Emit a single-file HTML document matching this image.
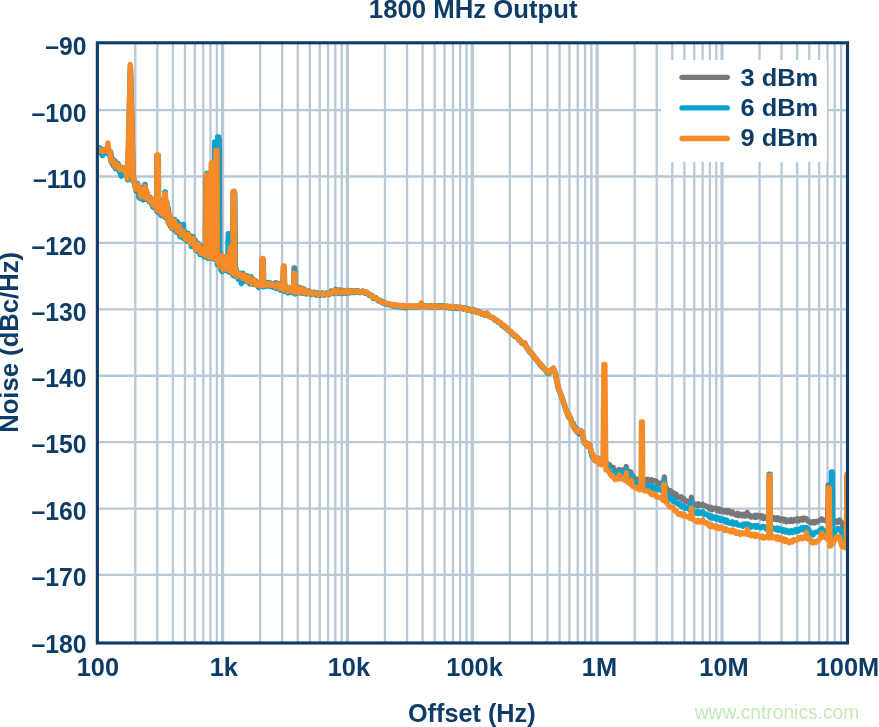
<!DOCTYPE html>
<html lang="en">
<head>
<meta charset="utf-8">
<title>1800 MHz Output</title>
<style>
html,body{margin:0;padding:0;background:#fff;}
body{width:879px;height:727px;overflow:hidden;}
svg{display:block;}
text{font-family:"Liberation Sans",sans-serif;}
.b{font-weight:bold;fill:#0c3c67;}
.w{fill:#c5e8b8;}
</style>
</head>
<body>
<svg width="879" height="727" viewBox="0 0 879 727">
<rect width="879" height="727" fill="#fff"/>
<path d="M135.30 42.8V643.0M157.29 42.8V643.0M172.89 42.8V643.0M184.99 42.8V643.0M194.87 42.8V643.0M203.23 42.8V643.0M210.47 42.8V643.0M216.86 42.8V643.0M260.15 42.8V643.0M282.14 42.8V643.0M297.74 42.8V643.0M309.84 42.8V643.0M319.72 42.8V643.0M328.08 42.8V643.0M335.32 42.8V643.0M341.71 42.8V643.0M385.00 42.8V643.0M406.99 42.8V643.0M422.59 42.8V643.0M434.69 42.8V643.0M444.57 42.8V643.0M452.93 42.8V643.0M460.17 42.8V643.0M466.56 42.8V643.0M509.85 42.8V643.0M531.84 42.8V643.0M547.44 42.8V643.0M559.54 42.8V643.0M569.42 42.8V643.0M577.78 42.8V643.0M585.02 42.8V643.0M591.41 42.8V643.0M634.70 42.8V643.0M656.69 42.8V643.0M672.29 42.8V643.0M684.39 42.8V643.0M694.27 42.8V643.0M702.63 42.8V643.0M709.87 42.8V643.0M716.26 42.8V643.0M759.55 42.8V643.0M781.54 42.8V643.0M797.14 42.8V643.0M809.24 42.8V643.0M819.12 42.8V643.0M827.48 42.8V643.0M834.72 42.8V643.0M841.11 42.8V643.0" stroke="#b8c8d7" stroke-width="2.3" fill="none"/>
<path d="M222.57 42.8V643.0M347.42 42.8V643.0M472.27 42.8V643.0M597.12 42.8V643.0M721.97 42.8V643.0" stroke="#b8c8d7" stroke-width="3.2" fill="none"/>
<path d="M97.35 110.10H847.5M97.35 176.51H847.5M97.35 242.92H847.5M97.35 309.33H847.5M97.35 375.74H847.5M97.35 442.15H847.5M97.35 508.56H847.5M97.35 574.97H847.5" stroke="#b8c8d7" stroke-width="2.3" fill="none"/>
<clipPath id="cp"><rect x="98.3" y="43.5" width="748.6" height="598.5"/></clipPath>
<g clip-path="url(#cp)">
<path d="M95.0,149.6 96.7,152.0 98.3,149.5 100.3,151.8 102.4,149.5 104.5,151.9 106.1,149.3 108.7,153.2 110.5,151.6 113.2,165.5 115.2,161.0 116.8,168.6 117.2,168.6 118.2,163.6 119.2,169.6 119.8,166.3 121.5,170.2 124.0,168.4 126.2,174.8 127.0,177.5 127.8,175.8 127.8,179.5 130.6,66.5 133.4,180.5 134.0,178.9 136.0,191.0 137.6,184.2 138.8,197.3 139.6,196.6 140.4,198.3 141.0,187.7 143.1,196.2 145.3,187.6 147.2,199.2 149.6,197.4 151.9,204.4 154.5,199.4 156.4,210.1 156.5,210.4 156.8,156.0 158.0,156.0 158.3,211.4 158.9,201.3 161.4,213.9 163.2,200.5 163.8,200.5 165.9,217.7 168.1,207.1 170.0,226.0 172.3,219.1 174.4,230.1 177.1,221.4 179.5,234.7 181.9,228.5 184.7,238.8 186.6,232.7 188.9,241.9 191.0,236.0 192.7,246.2 195.2,239.9 197.0,251.1 199.6,245.3 201.7,254.8 204.4,248.6 205.3,256.4 205.8,176.0 206.9,176.0 207.3,257.4 207.9,250.5 209.9,257.6 211.0,257.7 211.4,165.0 212.6,165.0 213.0,258.7 213.6,251.0 215.3,258.8 217.1,252.7 217.8,264.7 218.2,140.0 219.4,140.0 219.8,265.7 220.1,253.4 220.7,253.4 222.2,268.2 224.3,257.0 226.5,270.5 228.6,258.0 229.2,258.0 231.2,272.5 232.4,274.0 233.0,193.0 234.2,193.0 234.8,275.0 235.4,267.7 237.9,278.3 240.5,273.7 242.5,278.6 244.8,274.8 246.4,281.3 248.1,276.7 249.7,282.7 251.4,277.7 253.3,283.9 256.0,281.0 257.7,286.4 259.6,282.6 261.3,286.3 261.6,285.2 262.2,259.5 262.8,259.5 263.4,286.2 264.0,282.5 266.1,285.3 267.8,282.6 269.6,285.9 271.3,283.4 274.1,286.7 275.7,282.8 277.3,288.0 280.0,284.0 282.5,289.7 282.7,289.7 283.3,267.0 283.9,267.0 284.5,290.7 285.1,286.1 287.6,291.8 290.1,287.5 291.9,292.5 293.5,292.2 294.1,268.0 294.7,268.0 295.3,293.2 295.9,287.1 298.4,293.0 300.9,287.9 303.1,293.2 304.6,289.6 306.5,293.5 308.9,291.0 311.0,294.3 313.7,292.2 315.7,294.5 317.5,293.1 319.3,294.9 322.0,293.1 324.1,294.9 326.6,293.3 329.0,294.5 331.5,291.1 333.6,293.3 336.1,289.7 338.7,293.3 340.7,290.2 343.4,293.2 345.1,290.7 346.8,293.0 349.4,290.7 352.0,292.5 354.3,290.7 356.5,292.2 358.1,290.8 360.4,292.3 363.1,291.2 365.7,293.1 367.5,292.8 369.4,295.3 371.7,295.3 373.7,298.3 376.4,298.2 378.5,300.8 381.2,300.9 383.9,303.1 386.0,303.2 387.6,304.5 389.3,303.8 391.8,305.3 392.0,304.8 393.3,305.5 394.6,305.9 395.9,304.9 397.2,306.3 398.5,305.9 400.0,305.7 401.4,307.0 402.8,305.8 404.2,307.2 405.6,306.3 407.1,307.0 408.5,306.2 409.9,307.2 411.3,306.0 412.8,307.2 414.2,306.2 415.6,306.5 417.1,307.0 418.6,305.9 420.0,306.4 421.4,303.3 422.8,306.5 424.4,306.8 425.9,305.7 427.5,306.1 429.0,306.8 430.4,305.5 431.8,307.0 433.2,306.7 434.7,305.7 436.1,306.4 437.5,307.2 438.9,305.8 440.3,307.1 441.8,306.0 443.2,306.2 444.6,306.8 446.0,307.4 447.5,306.4 448.9,307.7 450.3,306.8 451.7,308.1 453.1,307.7 454.6,307.1 456.0,308.3 457.4,307.2 458.8,308.2 460.3,307.1 461.7,307.8 463.1,308.7 464.5,307.9 465.9,308.1 467.4,309.8 468.8,308.9 470.2,309.8 471.6,309.5 473.0,311.0 474.5,310.1 475.9,311.9 477.3,312.3 478.7,311.9 480.2,312.1 481.7,314.2 483.2,314.0 484.7,315.2 486.4,313.2 487.7,314.1 489.0,316.1 490.7,317.4 492.4,317.5 493.8,318.1 495.2,320.3 496.7,320.1 498.1,322.2 499.5,322.4 500.9,323.9 502.3,325.8 503.8,325.6 505.2,327.0 506.6,328.1 508.0,330.3 509.5,331.1 510.9,331.7 512.3,334.0 513.7,334.3 515.1,336.6 516.6,336.9 518.0,338.6 519.3,340.6 520.5,340.9 521.8,343.0 523.1,344.0 524.8,343.2 526.5,347.0 527.8,348.2 529.1,350.5 530.4,352.2 531.6,353.3 533.0,354.6 534.4,356.5 535.8,359.0 537.1,360.0 538.5,362.1 539.9,364.1 541.3,364.8 542.6,366.2 544.0,368.3 545.5,370.1 546.9,370.9 548.4,372.8 550.1,371.6 551.7,369.4 553.4,368.2 555.6,373.9 556.8,381.0 558.1,386.9 559.5,391.1 560.9,394.9 562.3,398.4 563.6,402.8 564.9,406.0 566.2,410.3 567.6,415.2 569.0,414.7 570.5,417.9 571.9,422.5 573.4,426.7 574.8,429.1 576.2,428.5 577.6,432.4 579.1,433.5 580.6,430.7 582.1,432.0 583.3,440.0 584.6,443.1 585.9,442.6 587.1,445.8 588.5,446.6 589.8,444.8 591.3,453.0 592.6,457.3 593.8,456.8 595.1,460.5 597.6,458.2 599.0,460.9 600.4,458.5 601.8,462.2 603.3,462.8 604.7,460.8 606.1,464.1 607.5,463.8 609.4,464.5 611.3,468.3 612.3,468.9 613.1,467.4 614.0,469.9 616.3,471.2 617.9,470.8 618.8,469.5 619.6,470.4 621.9,469.9 624.0,470.5 625.4,470.8 626.3,466.5 627.1,471.0 628.8,471.3 629.8,472.5 630.7,472.0 631.5,474.4 633.2,476.3 635.1,479.3 636.3,480.7 637.6,479.3 638.8,480.6 640.1,481.6 641.3,479.2 642.6,481.4 643.8,479.3 645.1,481.2 646.3,479.9 647.9,479.2 649.4,480.9 650.0,480.0 651.3,479.7 652.6,481.7 653.9,480.6 655.2,480.7 656.5,481.4 657.8,483.9 659.1,483.2 660.9,483.1 662.7,485.0 663.4,485.5 664.3,476.8 665.1,486.7 665.9,487.3 667.5,489.8 669.1,490.9 670.5,490.6 671.8,493.8 673.2,492.6 674.6,495.4 675.9,494.0 677.3,495.9 678.6,497.4 679.9,498.0 681.2,496.8 682.5,499.4 683.8,498.6 685.1,500.8 686.4,500.8 688.0,502.3 689.6,502.0 690.6,502.4 691.4,497.1 692.3,503.1 693.2,503.5 695.5,504.4 696.9,505.7 698.2,503.7 699.6,505.4 701.0,504.8 701.9,505.1 702.8,504.4 703.6,505.6 704.6,505.9 706.4,506.0 708.2,507.5 709.6,509.1 711.0,507.3 712.3,509.6 713.7,509.1 715.0,508.2 716.3,508.4 717.6,510.7 718.9,508.9 720.2,511.5 721.5,509.9 722.8,510.9 724.2,512.0 725.7,510.5 727.1,512.6 728.5,510.5 730.0,511.7 731.2,513.4 732.5,511.9 733.8,514.1 735.0,513.8 736.3,515.3 737.5,513.4 738.8,515.6 740.1,514.0 741.3,515.1 742.6,516.0 743.9,514.4 745.2,516.2 746.5,515.6 747.3,512.4 748.2,515.8 749.6,515.1 751.1,517.1 752.6,516.3 753.8,517.1 755.1,515.2 756.3,517.5 757.6,515.2 758.8,516.3 760.1,515.5 761.3,517.7 762.6,516.0 763.8,518.7 765.1,517.8 766.3,516.7 767.6,518.9 768.8,519.3 770.1,519.5 771.3,517.4 772.6,519.5 773.8,517.6 775.1,518.8 776.3,519.8 777.6,517.8 778.8,518.2 780.1,520.5 781.4,519.4 782.6,518.9 783.9,520.9 785.1,519.4 786.4,521.8 787.6,521.1 788.9,520.0 790.1,521.5 791.4,519.5 792.6,521.4 793.9,520.3 795.1,519.3 796.4,521.0 797.6,518.7 798.9,520.7 800.1,519.4 801.5,518.5 802.8,520.1 804.2,518.1 805.5,518.9 806.4,518.9 807.2,519.5 806.4,518.8 807.8,521.2 809.2,521.2 810.8,522.8 812.3,522.8 813.7,521.6 815.0,522.9 816.3,521.5 818.1,521.5 819.9,519.9 821.1,520.0 821.9,518.9 822.8,520.0 825.1,520.1 826.7,521.3 827.6,520.0 828.2,484.8 828.8,484.8 829.6,520.0 830.9,519.2 832.3,521.9 833.6,522.2 835.0,520.6 836.3,522.1 837.9,522.3 839.5,520.1 841.9,522.9 843.5,527.7 845.1,532.5 846.3,540.0 847.0,476.0 848.0,476.0 848.6,540.0" fill="none" stroke="#77787b" stroke-width="5.3" stroke-linejoin="round" stroke-linecap="round"/>
<path d="M95.0,149.2 97.0,152.5 98.3,152.0 99.6,147.6 100.9,153.0 100.5,152.1 102.5,155.6 104.5,153.1 105.1,149.3 107.3,153.3 108.9,150.6 111.2,162.4 113.2,159.4 115.2,168.7 116.9,163.5 118.6,170.0 119.0,170.4 121.3,176.2 123.6,171.4 124.2,168.0 126.7,175.0 127.7,179.9 130.3,66.0 132.9,180.9 133.5,177.6 135.4,188.7 137.8,183.6 139.4,197.8 141.2,187.9 142.1,196.9 143.0,200.0 143.9,197.9 144.2,198.4 144.7,184.3 145.3,184.3 145.8,199.4 146.4,190.4 149.1,201.9 150.6,197.4 152.7,206.8 153.8,207.5 154.9,207.8 155.5,200.3 156.9,211.7 157.2,156.5 158.4,156.5 158.7,212.7 159.0,200.3 159.6,200.3 160.9,215.5 162.3,199.8 162.9,199.8 164.2,216.7 164.8,191.8 165.4,191.8 166.0,217.7 166.3,201.7 166.9,201.7 168.1,222.7 170.3,216.1 171.9,228.6 174.6,219.4 176.6,232.4 178.3,222.9 180.0,236.8 182.4,237.6 182.9,224.3 183.5,224.3 184.0,238.6 184.6,231.5 186.8,241.3 188.5,233.7 191.3,246.6 193.0,236.6 195.7,250.6 198.0,243.1 200.0,254.5 202.2,246.6 203.9,256.8 206.2,257.4 206.6,173.5 207.8,173.5 208.2,258.4 208.8,250.2 210.9,258.6 213.7,251.0 214.2,259.3 214.6,141.8 215.8,141.8 216.2,260.3 216.8,251.4 217.2,264.5 217.6,137.0 218.8,137.0 219.2,265.5 219.5,252.9 220.1,252.9 220.8,269.7 222.0,271.5 223.2,270.7 223.5,256.7 224.1,256.7 225.7,269.7 227.6,271.2 228.2,233.7 228.8,233.7 229.4,272.2 229.7,259.4 230.3,259.4 232.5,273.3 233.1,275.4 233.8,194.0 234.9,194.0 235.5,276.4 236.1,268.6 238.2,279.3 240.1,273.1 240.3,279.1 241.3,283.7 242.3,280.1 242.9,273.2 245.7,281.6 247.6,275.7 249.6,284.0 251.3,276.7 253.2,284.5 255.9,281.0 258.7,287.5 261.0,282.5 262.1,285.9 262.7,260.0 263.3,260.0 263.9,286.9 264.5,282.3 266.5,286.3 269.3,282.6 270.9,286.8 271.6,286.4 272.6,286.8 273.6,287.4 274.2,283.5 276.4,288.5 278.0,283.3 280.4,290.1 282.4,284.3 283.1,290.6 283.7,267.5 284.3,267.5 284.9,291.6 285.5,285.4 288.0,293.0 290.1,287.5 291.7,292.6 293.4,287.1 293.7,293.0 294.3,271.0 294.9,271.0 295.5,294.0 296.1,287.0 297.9,292.7 299.6,287.3 301.8,293.3 303.6,288.7 306.3,294.0 309.0,291.3 311.8,294.7 314.0,292.2 316.2,295.1 317.8,292.9 320.0,295.2 322.5,292.9 324.1,295.3 326.2,293.0 328.5,294.6 330.8,291.4 333.4,293.6 336.0,289.3 338.3,293.6 339.9,289.9 342.2,293.5 344.2,290.6 345.9,293.3 347.7,290.6 349.6,292.9 351.8,290.6 354.3,292.6 356.9,290.8 359.6,292.7 362.4,290.9 364.9,293.2 366.9,292.2 369.4,295.6 371.2,295.0 372.9,298.4 375.6,297.5 378.1,300.9 380.3,300.3 382.6,302.9 384.4,302.3 386.2,304.4 388.9,303.6 390.5,305.5 392.0,305.5 393.3,306.4 394.6,306.3 395.9,305.4 397.2,306.9 398.5,306.5 400.0,306.0 401.4,307.3 402.8,306.3 404.2,307.6 405.6,307.8 407.1,307.1 408.5,306.4 409.9,307.3 411.3,306.2 412.8,307.1 414.2,307.1 415.6,306.3 417.1,306.0 418.6,307.1 420.0,306.7 421.4,303.5 422.8,306.5 424.4,306.0 425.9,305.9 427.5,306.6 429.0,307.3 430.4,305.8 431.8,305.7 433.2,306.9 434.7,307.0 436.1,306.2 437.5,305.6 438.9,306.9 440.3,305.8 441.8,305.9 443.2,306.0 444.6,306.6 446.0,306.1 447.5,307.5 448.9,307.7 450.3,306.7 451.7,308.0 453.1,307.5 454.6,306.9 456.0,308.5 457.4,307.1 458.8,308.5 460.3,307.4 461.7,308.2 463.1,309.0 464.5,308.2 465.9,308.5 467.4,310.2 468.8,309.1 470.2,310.1 471.6,311.1 473.0,310.1 474.5,311.6 475.9,311.9 477.3,311.0 478.7,312.1 480.2,313.2 481.7,313.9 483.2,313.6 484.7,314.7 486.4,313.4 487.7,315.3 489.0,316.3 490.7,316.8 492.4,318.1 493.8,318.6 495.2,320.4 496.7,320.2 498.1,322.3 499.5,322.2 500.9,323.7 502.3,325.6 503.8,325.7 505.2,328.0 506.6,328.1 508.0,330.2 509.5,331.0 510.9,331.6 512.3,334.3 513.7,334.1 515.1,336.6 516.6,336.6 518.0,338.5 519.3,340.3 520.5,340.6 521.8,342.8 523.1,343.7 524.8,343.4 526.5,347.8 527.8,349.0 529.1,351.5 530.4,352.1 531.6,354.1 533.0,356.1 534.4,357.1 535.8,359.4 537.1,360.5 538.5,362.5 539.9,364.5 541.3,366.3 542.6,367.7 544.0,369.0 545.5,370.2 546.9,372.6 548.4,373.8 550.1,372.4 551.7,369.8 553.4,368.4 555.6,374.3 556.8,381.4 558.1,387.9 559.5,391.0 560.9,395.4 562.3,398.5 563.6,402.2 564.9,407.0 566.2,410.7 567.6,412.1 569.0,417.9 570.5,418.3 571.9,422.5 573.4,423.1 574.8,428.8 576.2,428.3 577.6,432.4 579.1,433.7 580.6,431.1 582.1,432.2 583.3,439.6 584.6,443.5 585.9,442.4 587.1,446.0 588.5,443.9 589.8,445.0 591.3,453.3 592.6,457.7 593.8,457.2 595.1,460.8 597.6,458.4 599.0,460.5 600.4,458.5 601.8,462.3 603.3,461.1 604.7,464.1 606.1,463.2 607.5,465.0 608.8,467.9 610.0,468.5 611.9,471.3 612.3,471.6 613.1,470.8 614.0,472.7 616.3,474.3 618.6,473.8 619.4,472.4 620.3,473.4 621.9,473.0 624.0,473.8 625.4,474.0 626.3,469.3 627.1,474.3 628.8,474.5 630.4,476.4 631.3,475.8 632.1,478.3 633.2,479.4 635.1,483.1 636.3,484.6 637.6,483.4 638.8,484.9 640.1,486.0 641.3,484.2 642.6,486.3 643.8,485.0 645.1,484.9 646.3,486.2 647.9,485.5 649.4,487.1 650.0,486.4 651.3,487.9 652.6,486.3 653.9,488.7 655.2,487.2 656.5,489.8 657.8,488.1 659.1,489.8 660.9,489.6 662.7,491.8 663.4,492.3 664.3,480.7 665.1,493.3 665.9,493.8 667.5,494.8 669.1,497.5 670.5,499.4 671.8,498.4 673.2,501.4 674.6,500.0 675.9,502.9 677.3,502.9 678.6,504.4 679.9,503.7 681.2,506.3 682.5,506.9 683.8,505.7 685.1,508.4 686.4,508.0 688.0,507.9 689.6,509.6 690.6,510.1 691.4,502.1 692.3,510.9 693.2,511.4 695.5,512.6 696.9,513.4 698.2,511.5 699.6,513.5 701.0,512.8 701.9,513.3 702.8,511.7 703.6,514.1 704.6,514.6 706.4,514.0 708.2,515.7 709.6,517.3 711.0,515.5 712.3,518.3 713.7,517.5 715.0,516.9 716.3,519.2 717.6,517.6 718.9,518.3 720.2,520.4 721.5,518.8 722.8,520.2 724.2,519.6 725.7,522.3 727.1,520.4 728.5,523.0 730.0,522.3 731.2,523.4 732.5,521.8 733.8,524.2 735.0,523.2 736.3,522.8 737.5,524.9 738.8,525.2 740.1,525.2 741.3,524.8 742.6,526.1 743.9,524.0 745.2,524.6 746.5,525.5 747.3,523.7 748.2,525.7 749.6,524.8 751.1,527.2 752.6,526.3 753.8,525.6 755.1,525.7 756.3,527.4 757.6,525.5 758.8,526.6 760.1,527.6 761.3,527.8 762.6,526.4 763.8,526.5 765.1,527.8 766.4,529.2 767.7,527.7 769.0,529.0 769.1,474.2 770.1,474.2 770.2,529.0 771.8,529.8 773.5,528.0 775.1,528.6 776.3,529.7 777.6,528.1 778.8,530.5 780.1,528.6 781.4,530.1 782.6,531.2 783.9,529.9 785.1,531.9 786.4,530.4 787.6,532.0 788.9,532.8 790.1,530.8 791.4,530.7 792.6,532.4 793.9,531.3 795.1,529.8 796.4,531.7 797.6,529.2 798.9,530.9 800.1,529.5 801.5,527.9 802.8,529.8 804.2,527.4 805.5,528.1 806.4,527.6 807.2,528.7 806.4,527.8 808.2,528.6 810.0,531.7 811.5,534.2 813.1,534.9 814.7,532.6 816.3,532.1 818.1,532.0 819.9,530.1 821.1,530.3 821.9,528.4 822.8,530.5 825.1,530.8 827.5,532.5 829.3,534.5 831.0,535.0 831.4,471.8 832.4,471.8 832.9,535.0 834.6,533.0 836.3,529.2 837.9,528.5 839.5,529.5 841.9,532.5 843.9,535.7 846.3,545.0 847.0,476.0 848.0,476.0 848.6,545.0" fill="none" stroke="#08a4cd" stroke-width="5.3" stroke-linejoin="round" stroke-linecap="round"/>
<path d="M95.0,149.9 97.5,151.5 100.2,149.8 102.9,151.4 105.0,149.7 106.8,151.3 107.9,143.0 109.0,152.3 109.6,150.2 111.2,161.7 113.1,160.3 115.3,166.9 117.1,164.4 119.8,169.4 121.5,167.1 123.2,170.2 124.8,169.5 127.4,178.6 130.3,64.4 133.2,179.6 133.8,179.1 135.6,189.1 138.3,185.2 141.0,196.8 143.4,188.3 144.4,197.2 145.2,186.4 146.0,198.2 146.6,191.3 149.4,201.1 151.2,198.6 153.0,204.7 154.5,200.3 156.7,210.1 157.0,154.9 158.2,154.9 158.5,211.1 159.1,202.4 161.5,213.8 163.1,199.4 163.7,199.4 164.1,215.2 164.7,193.6 165.3,193.6 165.9,216.2 166.2,201.6 166.8,201.6 168.6,223.6 170.2,215.0 171.7,227.5 174.3,220.6 176.9,231.0 179.1,225.9 180.7,235.4 183.4,231.1 185.9,239.4 188.6,234.4 190.6,243.7 193.1,238.3 195.6,250.0 198.2,244.0 200.9,253.3 202.8,248.1 205.5,256.0 205.7,255.9 206.1,174.9 207.2,174.9 207.7,256.9 208.3,250.8 210.2,257.2 210.9,257.1 211.3,163.0 212.5,163.0 212.9,258.1 213.5,252.2 215.2,258.6 215.3,259.8 215.8,150.5 216.9,150.5 217.3,260.8 217.9,253.5 219.5,266.2 221.7,255.4 223.5,270.1 225.7,256.4 226.3,256.4 228.1,269.0 229.4,270.6 230.0,247.5 230.6,247.5 231.2,271.6 231.8,263.1 232.6,273.5 233.2,191.1 234.4,191.1 235.0,274.5 235.6,268.5 237.3,276.8 240.0,274.0 242.5,278.2 244.6,274.9 247.2,281.6 249.3,276.9 251.9,283.5 254.0,279.5 256.4,285.3 258.3,283.0 260.0,285.7 261.8,284.6 262.4,258.3 263.0,258.3 263.6,285.6 264.2,282.8 266.5,284.9 268.5,283.2 270.3,285.4 272.9,284.0 275.5,286.9 277.9,283.8 280.3,288.5 282.8,285.6 282.9,289.1 283.5,265.9 284.1,265.9 284.7,290.1 285.3,286.2 287.7,291.2 290.4,287.5 292.7,291.8 293.5,291.6 294.1,273.1 294.7,273.1 295.3,292.6 295.9,287.8 298.3,292.5 300.8,287.7 303.4,293.0 305.7,289.9 308.3,293.6 310.9,291.8 313.3,294.3 316.0,292.9 318.2,294.6 320.8,293.3 322.9,294.7 325.4,293.3 327.1,294.6 329.3,292.3 331.4,293.7 333.9,290.3 336.3,292.6 338.0,290.1 340.4,292.8 342.8,290.6 344.3,292.8 346.1,290.9 347.8,292.5 349.5,290.8 351.1,292.2 353.1,290.8 355.3,292.0 358.0,291.1 360.0,292.1 362.1,291.4 364.6,292.7 366.2,291.9 367.8,293.9 369.8,294.3 372.5,297.5 374.5,297.1 376.9,299.8 378.6,299.7 380.8,301.8 383.6,302.4 386.2,303.4 388.5,303.9 390.8,305.0 392.0,304.6 393.3,305.3 394.6,304.5 395.9,305.9 397.2,305.0 398.5,305.7 400.0,305.3 401.4,306.6 402.8,305.3 404.2,306.7 405.6,305.6 407.1,306.3 408.5,305.8 409.9,307.0 411.3,305.7 412.8,306.9 414.2,305.6 415.6,306.3 417.1,306.9 418.6,306.9 420.0,306.2 421.4,303.1 422.8,306.2 424.4,306.7 425.9,306.7 427.5,306.2 429.0,306.9 430.4,305.7 431.8,306.9 433.2,305.6 434.7,306.8 436.1,306.2 437.5,305.7 438.9,306.9 440.3,307.0 441.8,307.1 443.2,307.1 444.6,306.5 446.0,305.9 447.5,306.0 448.9,307.5 450.3,306.3 451.7,307.6 453.1,307.2 454.6,306.6 456.0,307.0 457.4,307.1 458.8,308.3 460.3,307.2 461.7,308.1 463.1,309.0 464.5,308.0 465.9,309.6 467.4,309.8 468.8,310.0 470.2,309.8 471.6,309.5 473.0,311.0 474.5,310.3 475.9,311.8 477.3,312.3 478.7,312.2 480.2,313.5 481.7,312.9 483.2,314.7 484.7,314.7 486.4,313.0 487.7,313.8 489.0,315.7 490.7,317.5 492.4,317.8 493.8,318.1 495.2,320.1 496.7,319.8 498.1,322.0 499.5,321.8 500.9,323.2 502.3,324.9 503.8,325.0 505.2,327.5 506.6,327.4 508.0,329.9 509.5,330.4 510.9,331.3 512.3,333.7 513.7,334.8 515.1,335.0 516.6,337.5 518.0,338.3 519.3,339.1 520.5,341.4 521.8,341.9 523.1,343.7 524.8,343.0 526.5,347.1 527.8,349.2 529.1,350.0 530.4,352.5 531.6,353.6 533.0,354.9 534.4,357.4 535.8,358.2 537.1,360.8 538.5,361.9 539.9,363.0 541.3,365.6 542.6,366.3 544.0,368.5 545.5,370.3 546.9,371.0 548.4,372.9 550.1,371.8 551.7,370.0 553.4,368.0 555.6,374.0 556.8,380.1 558.1,387.2 559.5,391.4 560.9,394.2 562.3,398.2 563.6,402.7 564.9,405.8 566.2,410.2 567.6,414.5 569.0,414.2 570.5,420.0 571.9,421.9 573.4,426.3 574.8,428.5 576.2,431.4 577.6,432.1 579.1,430.3 580.6,430.3 582.1,431.8 583.3,439.6 584.6,442.9 585.9,442.4 587.1,445.6 588.5,446.7 589.8,444.6 591.3,452.6 592.6,453.5 593.8,459.6 595.1,460.3 597.6,458.0 599.0,463.7 601.4,464.9 602.9,464.0 603.9,364.4 604.9,364.4 605.9,470.0 607.3,469.8 608.6,471.1 610.0,473.8 611.3,476.0 612.5,475.5 613.8,477.8 615.0,479.7 616.3,479.0 618.6,478.9 619.4,475.3 620.3,478.9 621.9,478.8 623.2,478.2 624.4,479.8 625.4,480.5 626.3,473.0 627.1,481.6 628.5,482.6 630.4,484.2 631.3,480.3 632.1,485.7 633.2,486.6 635.1,487.8 636.6,487.2 638.2,489.1 639.6,489.9 641.0,489.0 641.4,422.0 642.4,422.0 642.8,489.0 644.6,491.0 646.3,491.1 647.9,490.8 649.4,492.3 650.0,492.7 651.3,494.4 652.6,494.8 653.9,493.4 655.2,494.1 656.5,496.9 657.8,497.2 659.1,497.1 660.9,497.7 662.7,500.0 663.4,500.4 664.0,484.4 664.6,484.4 665.1,501.4 665.9,501.8 668.2,505.0 670.0,507.1 671.8,507.3 673.2,507.5 674.6,510.8 675.9,510.6 677.3,512.8 678.6,514.5 679.9,514.5 681.2,513.5 682.5,515.7 683.8,514.3 685.1,516.7 686.4,516.4 688.0,516.6 689.6,518.2 690.6,518.6 691.4,508.0 692.3,519.2 693.2,519.6 695.5,520.8 696.9,522.0 698.2,520.4 699.6,522.1 701.0,521.4 701.9,521.8 702.8,519.9 703.6,522.4 704.6,522.8 706.4,522.6 708.2,524.6 709.6,526.2 711.0,524.6 712.3,526.9 713.7,526.4 715.0,525.9 716.3,528.1 717.6,526.5 718.9,528.6 720.2,527.3 721.5,527.4 722.8,529.0 724.2,530.4 725.7,528.6 727.1,530.5 728.5,531.0 730.0,530.2 731.2,531.8 732.5,530.0 733.8,532.3 735.0,531.3 736.3,533.5 737.5,532.8 738.8,532.3 740.1,534.4 741.3,532.7 742.6,532.9 743.8,533.8 745.1,533.0 746.5,534.2 747.3,529.1 748.2,534.5 749.6,533.4 751.1,536.0 752.6,535.1 753.8,534.2 755.1,536.6 756.3,534.6 757.6,535.2 758.8,536.1 760.1,537.3 761.3,537.4 762.6,536.0 763.8,538.2 765.1,537.3 766.9,536.8 768.7,538.0 769.0,475.3 770.0,475.3 770.4,537.0 772.0,538.0 773.5,536.5 775.1,537.3 776.3,538.9 777.6,536.9 778.8,539.5 780.1,537.7 781.4,539.1 782.6,540.6 783.9,538.9 785.1,541.3 786.4,539.9 787.6,541.6 788.9,542.9 790.1,542.3 791.4,540.9 792.6,541.9 793.9,539.6 795.1,539.8 796.4,540.5 797.6,539.9 798.9,537.7 800.1,538.2 801.4,537.0 802.6,538.6 803.9,537.6 805.5,538.1 806.4,532.5 807.2,538.7 809.2,539.3 810.5,539.6 811.8,542.6 813.1,543.0 814.5,541.5 815.8,542.4 817.1,540.9 818.5,540.7 819.9,538.5 821.1,537.9 821.9,533.1 822.8,537.1 823.9,536.5 825.1,537.7 826.7,537.9 828.2,540.0 828.4,488.0 829.4,488.0 830.0,546.0 830.7,545.9 833.1,542.9 834.7,539.7 836.3,536.9 837.9,536.3 839.5,537.1 841.9,546.3 844.3,547.3 846.3,548.0 847.0,474.0 848.0,474.0 848.6,548.0" fill="none" stroke="#f68b28" stroke-width="5.3" stroke-linejoin="round" stroke-linecap="round"/>
</g>
<rect x="661" y="60" width="166" height="102" fill="#fff"/>
<line x1="682.0" y1="77.3" x2="727.3" y2="77.3" stroke="#77787b" stroke-width="5.3" stroke-linecap="round"/>
<line x1="682.0" y1="107.9" x2="727.3" y2="107.9" stroke="#08a4cd" stroke-width="5.3" stroke-linecap="round"/>
<line x1="682.0" y1="138.5" x2="727.3" y2="138.5" stroke="#f68b28" stroke-width="5.3" stroke-linecap="round"/>
<rect x="97.35" y="42.8" width="750.15" height="600.20" fill="none" stroke="#0c3c67" stroke-width="3.1"/>
<text transform="translate(740.60 85.75) scale(1.0393 1)" class="b" text-anchor="start" font-size="24.4">3 dBm</text>
<text transform="translate(740.60 116.00) scale(1.0393 1)" class="b" text-anchor="start" font-size="24.4">6 dBm</text>
<text transform="translate(740.60 146.25) scale(1.0393 1)" class="b" text-anchor="start" font-size="24.4">9 dBm</text>
<text transform="translate(473.20 17.70) scale(1.0134 1)" class="b" text-anchor="middle" font-size="25.4">1800 MHz Output</text>
<text transform="translate(86.60 54.99) scale(0.9750 1)" class="b" text-anchor="end" font-size="25.4">–90</text>
<text transform="translate(86.60 122.30) scale(0.9750 1)" class="b" text-anchor="end" font-size="25.4">–100</text>
<text transform="translate(86.60 188.21) scale(0.9750 1)" class="b" text-anchor="end" font-size="25.4">–110</text>
<text transform="translate(86.60 254.52) scale(0.9750 1)" class="b" text-anchor="end" font-size="25.4">–120</text>
<text transform="translate(86.60 320.63) scale(0.9750 1)" class="b" text-anchor="end" font-size="25.4">–130</text>
<text transform="translate(86.60 387.04) scale(0.9750 1)" class="b" text-anchor="end" font-size="25.4">–140</text>
<text transform="translate(86.60 453.45) scale(0.9750 1)" class="b" text-anchor="end" font-size="25.4">–150</text>
<text transform="translate(86.60 519.86) scale(0.9750 1)" class="b" text-anchor="end" font-size="25.4">–160</text>
<text transform="translate(86.60 586.27) scale(0.9750 1)" class="b" text-anchor="end" font-size="25.4">–170</text>
<text transform="translate(86.60 652.68) scale(0.9750 1)" class="b" text-anchor="end" font-size="25.4">–180</text>
<text transform="translate(97.90 676.30) scale(1.0000 1)" class="b" text-anchor="middle" font-size="25.4">100</text>
<text transform="translate(223.75 676.30) scale(1.0000 1)" class="b" text-anchor="middle" font-size="25.4">1k</text>
<text transform="translate(348.90 676.30) scale(1.0000 1)" class="b" text-anchor="middle" font-size="25.4">10k</text>
<text transform="translate(474.50 676.30) scale(1.0000 1)" class="b" text-anchor="middle" font-size="25.4">100k</text>
<text transform="translate(599.40 676.30) scale(1.0000 1)" class="b" text-anchor="middle" font-size="25.4">1M</text>
<text transform="translate(724.00 676.30) scale(1.0000 1)" class="b" text-anchor="middle" font-size="25.4">10M</text>
<text transform="translate(847.50 676.30) scale(1.0000 1)" class="b" text-anchor="middle" font-size="25.4">100M</text>
<text transform="translate(471.80 722.40) scale(0.9953 1)" class="b" text-anchor="middle" font-size="25.4">Offset (Hz)</text>
<text transform="translate(17.60 342.40) rotate(-90) scale(1.0099 1)" class="b" text-anchor="middle" font-size="25.4">Noise (dBc/Hz)</text>
<text transform="translate(694.70 718.50) scale(0.9825 1)" class="w" text-anchor="start" font-size="19.6">www.cntronics.com</text>
</svg>
</body>
</html>
